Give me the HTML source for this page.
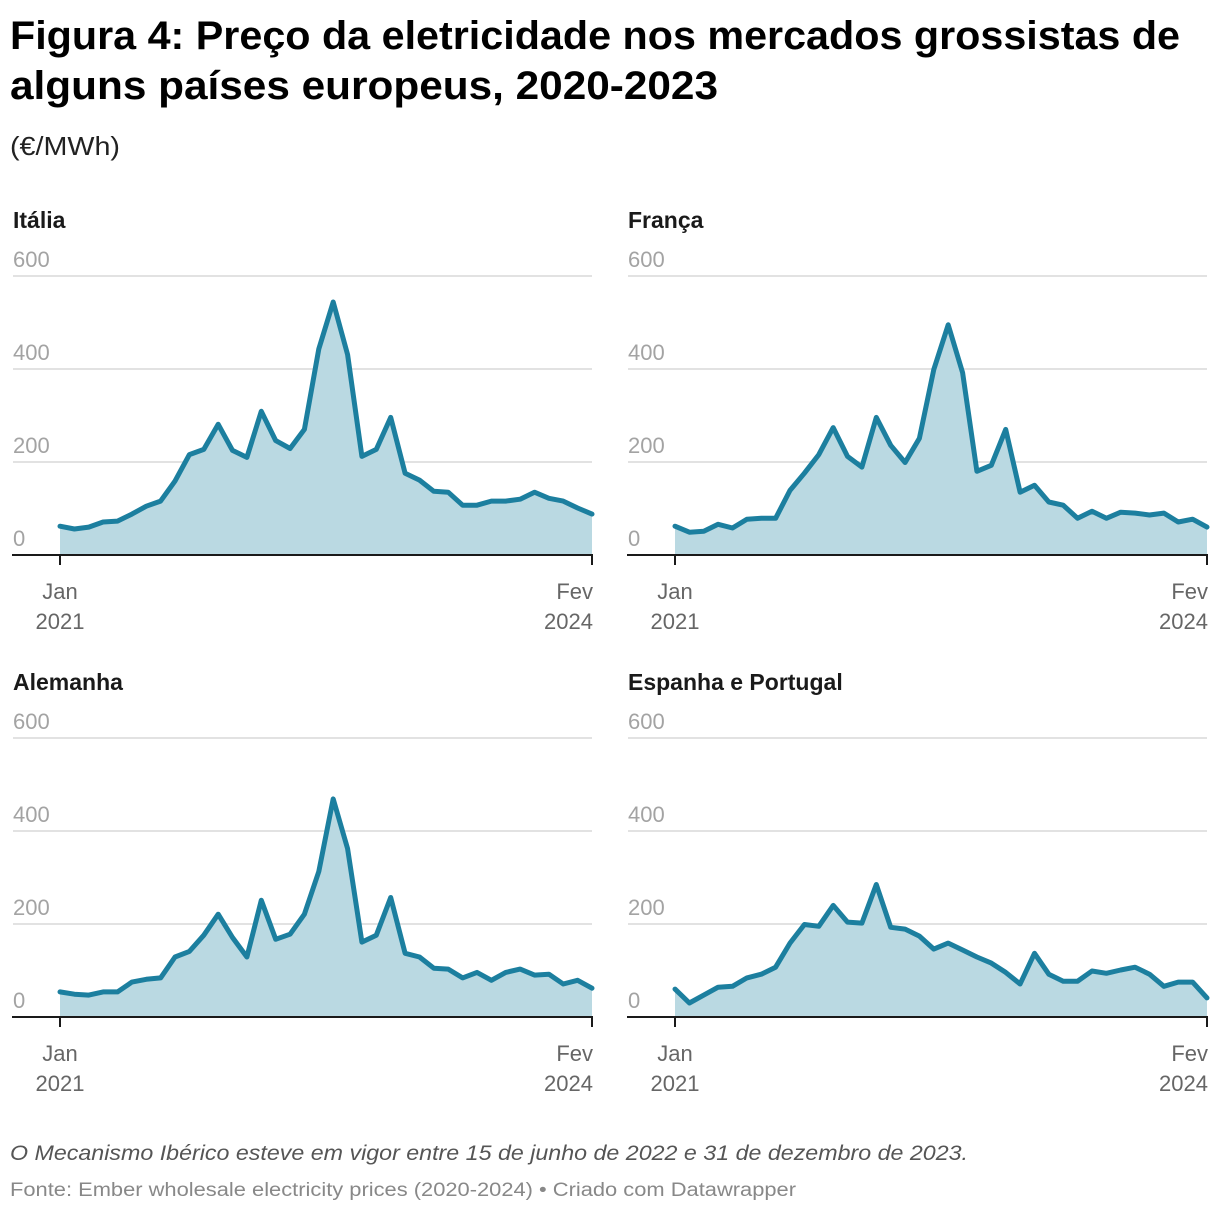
<!DOCTYPE html>
<html><head><meta charset="utf-8">
<style>
html,body{margin:0;padding:0;background:#fff;}
svg{display:block;font-family:"Liberation Sans",sans-serif;}
</style></head>
<body>
<svg id="c" width="1220" height="1212" viewBox="0 0 1220 1212" xmlns="http://www.w3.org/2000/svg">
<text x="10" y="49" font-size="40" font-weight="bold" fill="#000" textLength="1170" lengthAdjust="spacingAndGlyphs">Figura 4: Preço da eletricidade nos mercados grossistas de</text>
<text x="10" y="99" font-size="40" font-weight="bold" fill="#000" textLength="708" lengthAdjust="spacingAndGlyphs">alguns países europeus, 2020-2023</text>
<text x="10" y="155" font-size="26" fill="#222" textLength="110" lengthAdjust="spacingAndGlyphs">(€/MWh)</text>
<g id="panels"></g>
<text x="10" y="1160" font-size="21" font-style="italic" fill="#555" textLength="958" lengthAdjust="spacingAndGlyphs">O Mecanismo Ibérico esteve em vigor entre 15 de junho de 2022 e 31 de dezembro de 2023.</text>
<text x="10" y="1196" font-size="19" fill="#888" textLength="786" lengthAdjust="spacingAndGlyphs">Fonte: Ember wholesale electricity prices (2020-2024) • Criado com Datawrapper</text>
</svg>
<script>
const titles = ["Itália","França","Alemanha","Espanha e Portugal"];
const yTicks = [0,200,400,600];
const italy = [62,56,60,71,73,88,105,116,159,216,227,281,225,210,309,246,229,270,443,544,431,212,227,296,176,161,137,135,107,107,116,116,120,135,122,116,101,88];
const france = [62,49,51,66,58,77,79,79,139,176,216,274,212,189,296,236,199,251,399,495,392,180,193,270,135,150,114,107,79,94,79,92,90,86,90,71,77,60];
const germany = [54,49,47,54,54,75,81,84,129,141,176,221,171,129,251,167,178,221,313,469,362,161,176,257,137,129,105,103,84,96,79,96,103,90,92,71,79,62];
const spain = [60,30,47,64,66,84,92,107,159,199,195,240,204,202,285,193,189,174,146,159,144,129,116,96,71,137,92,77,77,99,94,101,107,92,66,75,75,41];
const series = [italy,france,germany,spain];
const ns="http://www.w3.org/2000/svg";
const root=document.getElementById('panels');
function mk(tag,attrs,parent){const e=document.createElementNS(ns,tag);for(const k in attrs)e.setAttribute(k,attrs[k]);parent.appendChild(e);return e;}
const offs=[[0,0],[615,0],[0,462],[615,462]];
series.forEach((data,p)=>{
  const ox=offs[p][0], oy=offs[p][1];
  const g=mk('g',{},root);
  
  
  const x0=60+ox, x1=592+ox, base=555+oy, top=276+oy;
  const xs=i=>x0+(x1-x0)*i/(data.length-1);
  const ys=v=>base-(base-top)*v/600;
  const t=mk('text',{x:13+ox,y:228+oy,'font-size':23,'font-weight':'bold',fill:'#1a1a1a'},g);
  t.textContent=titles[p];
  
  
  yTicks.forEach(v=>{
    if(v>0){const l=mk('line',{x1:13+ox,x2:x1,y1:ys(v),y2:ys(v),stroke:'#e2e2e2','stroke-width':2},g);
    
    }
    const tt=mk('text',{x:13+ox,y:ys(v)-9,'font-size':22,fill:'#a3a3a3'},g);
    tt.textContent=v;
    
    
  });
  let d='M'+xs(0)+','+base;
  data.forEach((v,i)=>{d+=' L'+xs(i).toFixed(1)+','+ys(v).toFixed(1);});
  d+=' L'+xs(data.length-1)+','+base+' Z';
  const a=mk('path',{d:d,fill:'#bad9e2'},g);
  
  
  const ln=mk('polyline',{points:data.map((v,i)=>xs(i).toFixed(1)+','+ys(v).toFixed(1)).join(' '),fill:'none',stroke:'#1c7f9f','stroke-width':5,'stroke-linejoin':'round','stroke-linecap':'round'},g);
  
  
  const b=mk('line',{x1:12+ox,x2:x1+1,y1:base,y2:base,stroke:'#1a1a1a','stroke-width':2},g);
  
  
  [[x0,'Jan','2021'],[x1,'Fev','2024']].forEach((q,k)=>{
    const tk=mk('line',{x1:q[0],x2:q[0],y1:base,y2:base+10,stroke:'#1a1a1a','stroke-width':2},g);
    
    
    const anchor=k==0?'middle':'end';
    const xx=k==0?q[0]:q[0]+1;
    const l1=mk('text',{x:xx,y:base+44,'font-size':22,fill:'#666','text-anchor':anchor},g);
    l1.textContent=q[1];
    
    
    const l2=mk('text',{x:xx,y:base+74,'font-size':22,fill:'#666','text-anchor':anchor},g);
    l2.textContent=q[2];
    
    
  });
});
</script>
</body></html>
